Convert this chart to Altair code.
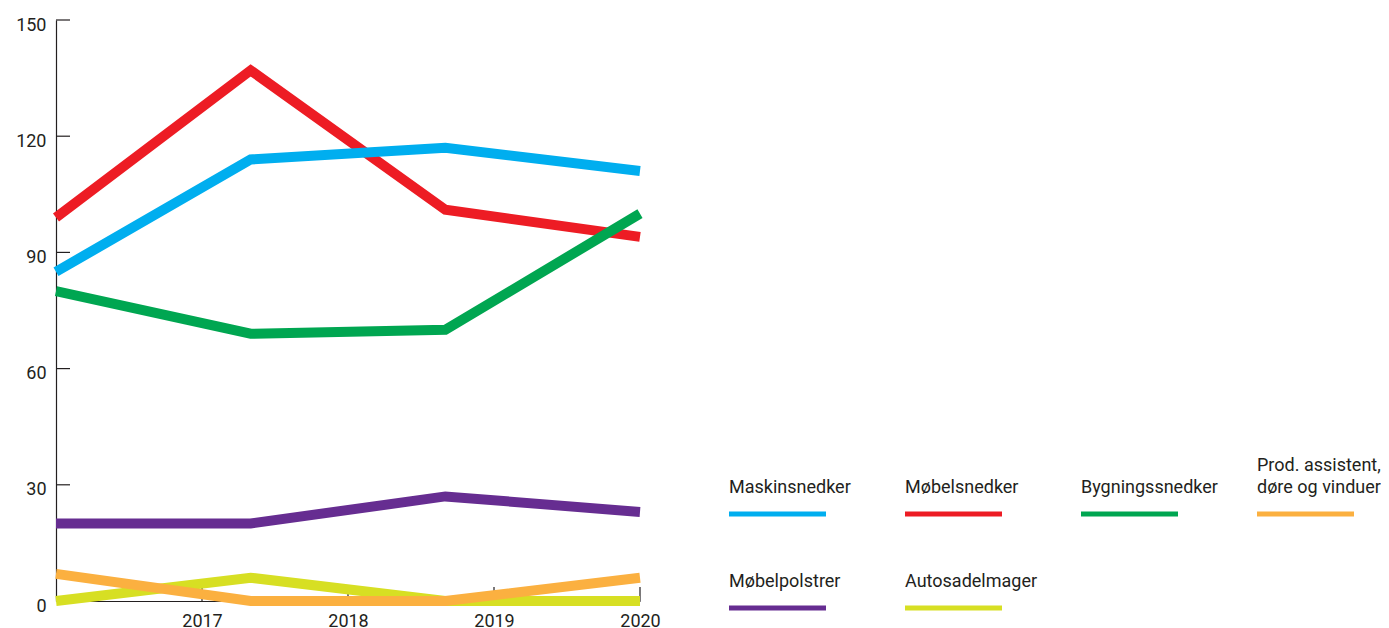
import altair as alt
import pandas as pd

# ---------------- data ----------------
series = [
    "Maskinsnedker",
    "Møbelsnedker",
    "Bygningssnedker",
    "Prod. assistent,\ndøre og vinduer",
    "Møbelpolstrer",
    "Autosadelmager",
]
colors = ["#00AEEF", "#ED1C24", "#00A651", "#FBB040", "#662D91", "#D7DF23"]

maskinsnedker = [85, 114, 117, 111]
mobelsnedker = [99, 137, 101, 94]
bygningssnedker = [80, 69, 70, 100]
prod_assistent = [7, 0, 0, 6]
mobelpolstrer = [20, 20, 27, 23]
autosadelmager = [0, 6, 0, 0]
values = [maskinsnedker, mobelsnedker, bygningssnedker, prod_assistent, mobelpolstrer, autosadelmager]

year_labels = [2017, 2018, 2019, 2020]
y_ticks = [0, 30, 60, 90, 120, 150]

# drawing order (bottom to top)
draw_order = ["Møbelsnedker", "Maskinsnedker", "Bygningssnedker", "Møbelpolstrer",
              "Autosadelmager", "Prod. assistent,\ndøre og vinduer"]

TEXT = "#231F20"
FONT = "Roboto"
W, H = 584, 581
LEG_W = 640
COL_PX = 176
LINE_PX = 97
ROW_PX = 94
FIRST_ROW = 494
TEXT_LINE_PX = 22

rows = []
for name, vals in zip(series, values):
    for i, v in enumerate(vals):
        rows.append({"series": name, "idx": i, "value": v})
df = pd.DataFrame(rows)

color_scale = alt.Scale(domain=series, range=colors)

y_enc = alt.Y(
    "value:Q",
    scale=alt.Scale(domain=[0, 150], nice=False),
    axis=alt.Axis(values=y_ticks, ticks=False, tickSize=0, labelPadding=10, labelOffset=5,
                  domainColor=TEXT, domainWidth=1.2, labelColor=TEXT, labelFontSize=18,
                  labelFont=FONT, grid=False, title=None),
)

x_line = alt.X("idx:Q", scale=alt.Scale(domain=[0, 3], nice=False, zero=False), axis=None)

lines = []
for s in draw_order:
    lines.append(
        alt.Chart(df).transform_filter(alt.datum.series == s).mark_line(strokeWidth=10).encode(
            x=x_line,
            y=y_enc,
            color=alt.Color("series:N", scale=color_scale, legend=None),
        )
    )

year_df = pd.DataFrame({"year": year_labels})
year_rules = alt.Chart(year_df).mark_rule(color=TEXT, strokeWidth=1.2).encode(
    x=alt.X("year:Q", scale=alt.Scale(domain=[2016, 2020], nice=False, zero=False),
            axis=alt.Axis(values=year_labels, format="d", ticks=False, tickSize=0, labelPadding=11,
                          labelFlush=False, domainColor=TEXT, domainWidth=1.2, labelColor=TEXT,
                          labelFontSize=18, labelFont=FONT, grid=False, title=None)),
    y=alt.value(H - 14),
    y2=alt.value(H),
)

tick_df = pd.DataFrame({"value": y_ticks})
y_tick_rules = alt.Chart(tick_df).mark_rule(color=TEXT, strokeWidth=1.2).encode(
    y=y_enc,
    x=alt.value(0),
    x2=alt.value(14),
)

plot = alt.layer(year_rules, y_tick_rules, *lines).resolve_scale(x="independent").properties(
    width=W, height=H
)

# ---------------- legend ----------------
leg_df = pd.DataFrame({
    "series": series,
    "col": [i % 4 for i in range(len(series))],
    "row": [-(i // 4) for i in range(len(series))],
})
# one text row per label line, stacked upward from the last line
text_rows = []
for i, name in enumerate(series):
    parts = name.split("\n")
    n = len(parts)
    for j, part in enumerate(parts):
        text_rows.append({
            "series": name,
            "line": part,
            "col": i % 4,
            "row": -(i // 4) + (n - 1 - j) * TEXT_LINE_PX / ROW_PX,
        })
text_df = pd.DataFrame(text_rows)

d0 = -(H - FIRST_ROW) / ROW_PX
d1 = d0 + H / ROW_PX
lx = alt.X("col:Q", scale=alt.Scale(domain=[0, LEG_W / COL_PX], nice=False, zero=False), axis=None)
ly = alt.Y("row:Q", scale=alt.Scale(domain=[d0, d1], nice=False, zero=False), axis=None)

leg_rules = alt.Chart(leg_df).transform_calculate(
    col_end=f"datum.col + {LINE_PX / COL_PX}"
).mark_rule(strokeWidth=5).encode(
    x=lx, x2="col_end:Q", y=ly,
    color=alt.Color("series:N", scale=color_scale, legend=None),
)
leg_text = alt.Chart(text_df).mark_text(
    align="left", baseline="bottom", dy=-17, fontSize=18, font=FONT, color=TEXT
).encode(
    x=lx, y=ly, text="line:N",
)
legend = alt.layer(leg_rules, leg_text).properties(width=LEG_W, height=H)

chart = alt.hconcat(plot, legend, spacing=65).properties(
    padding={"left": 7, "top": 8, "right": 0, "bottom": 0}
).configure(background="white").configure_view(stroke=None)

chart.save("out.html", embed_options={"renderer": "svg", "actions": False})
